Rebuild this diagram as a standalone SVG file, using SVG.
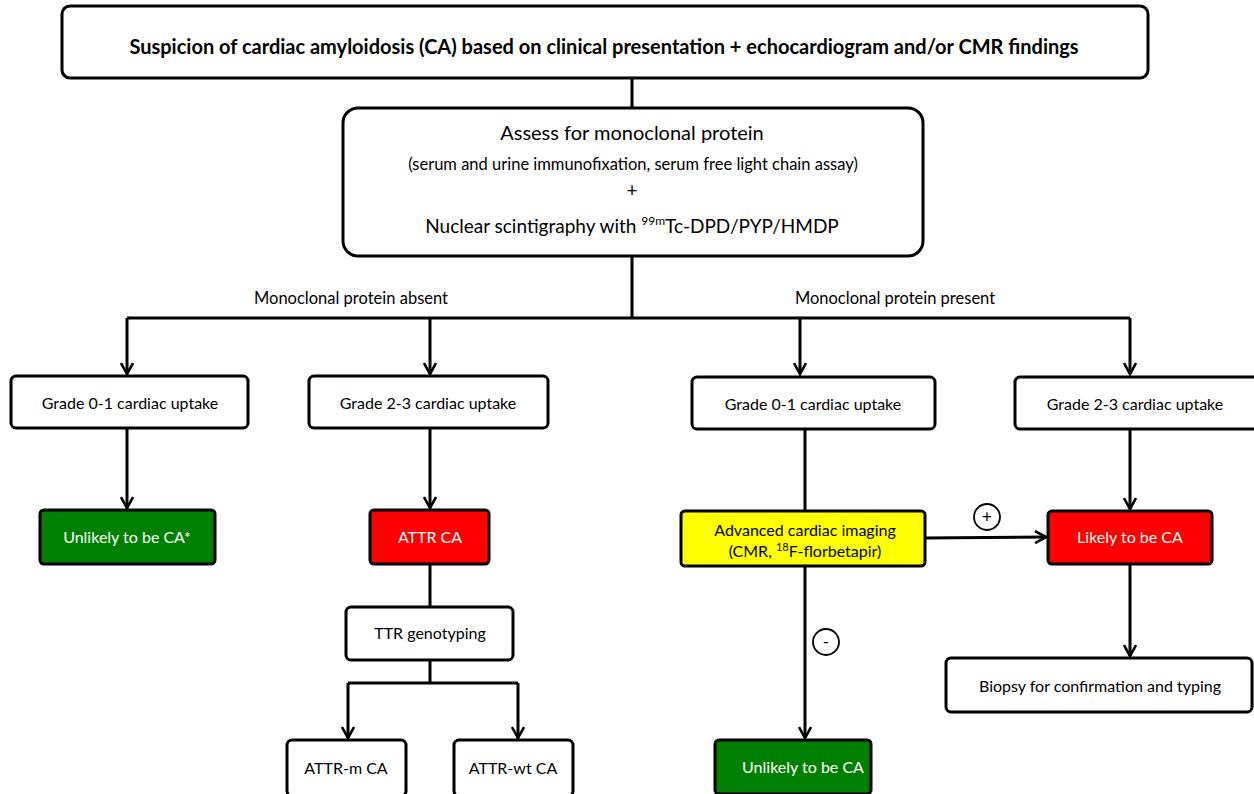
<svg xmlns="http://www.w3.org/2000/svg" width="1254" height="794" viewBox="0 0 1254 794">
<style>
.box{fill:#fff;stroke:#000;stroke-width:3}
.green{fill:#008000;stroke:#000;stroke-width:3}
.red{fill:#ff0000;stroke:#000;stroke-width:3}
.yellow{fill:#ffff00;stroke:#000;stroke-width:3}
.ln{fill:none;stroke:#000;stroke-width:3}
.t{font-family:Lato,"Open Sans","Liberation Sans",sans-serif;font-size:16px;fill:#000;text-anchor:middle}
.w{fill:#fff}
.b{font-weight:bold}
</style>
<defs>
<marker id="arr" viewBox="0 0 14 14" refX="12" refY="7" markerWidth="14" markerHeight="14" markerUnits="userSpaceOnUse" orient="auto">
<path d="M1,1 L12,7 L1,13" fill="none" stroke="#000" stroke-width="2.6"/>
</marker>
</defs>
<rect width="1254" height="794" fill="#fff"/>
<g id="connectors">
<path class="ln" d="M632,78 V108"/>
<path class="ln" d="M632,256 V318 M127,318 H1130"/>
<path class="ln" d="M127,318 V374" marker-end="url(#arr)"/>
<path class="ln" d="M430,318 V374" marker-end="url(#arr)"/>
<path class="ln" d="M800,318 V374" marker-end="url(#arr)"/>
<path class="ln" d="M1130,318 V374" marker-end="url(#arr)"/>
<path class="ln" d="M127,428 V508" marker-end="url(#arr)"/>
<path class="ln" d="M430,428 V508" marker-end="url(#arr)"/>
<path class="ln" d="M430,564 V607"/>
<path class="ln" d="M430,660 V683 M348,683 H518"/>
<path class="ln" d="M348,683 V738" marker-end="url(#arr)"/>
<path class="ln" d="M518,683 V738" marker-end="url(#arr)"/>
<path class="ln" d="M805,428 V511"/>
<path class="ln" d="M805,566 V738" marker-end="url(#arr)"/>
<path class="ln" d="M925,538 L1046,537" marker-end="url(#arr)"/>
<path class="ln" d="M1130,428 V509" marker-end="url(#arr)"/>
<path class="ln" d="M1130,564 V656" marker-end="url(#arr)"/>
<circle cx="987" cy="517" r="13" fill="#fff" stroke="#000" stroke-width="1.8"/>
<text class="t" x="987" y="523" style="font-size:17px">+</text>
<circle cx="826" cy="642" r="13" fill="#fff" stroke="#000" stroke-width="1.8"/>
<text class="t" x="826" y="648" style="font-size:17px">-</text>
<text class="t" x="351" y="304" style="font-size:16.5px">Monoclonal protein absent</text>
<text class="t" x="895" y="304" style="font-size:16.5px">Monoclonal protein present</text>
</g>
<g id="n-top">
<rect class="box" x="62" y="6" width="1086" height="72" rx="8"/>
<text class="t b" x="604" y="54" style="font-size:20px">Suspicion of cardiac amyloidosis (CA) based on clinical presentation + echocardiogram and/or CMR findings</text>
</g>
<g id="n-assess">
<rect class="box" x="343" y="108" width="580" height="148" rx="15"/>
<text class="t" x="632" y="140" style="font-size:20px">Assess for monoclonal protein</text>
<text class="t" x="633" y="170" style="font-size:16.5px">(serum and urine immunofixation, serum free light chain assay)</text>
<text class="t" x="632" y="197" style="font-size:19px">+</text>
<text class="t" x="632" y="233" style="font-size:19px">Nuclear scintigraphy with <tspan dy="-8" style="font-size:12px">99m</tspan><tspan dy="8">Tc-DPD/PYP/HMDP</tspan></text>
</g>
<g id="n-g01a">
<rect class="box" x="11" y="376" width="237" height="52" rx="5"/>
<text class="t" x="130" y="409">Grade 0-1 cardiac uptake</text>
</g>
<g id="n-g23a">
<rect class="box" x="309" y="376" width="239" height="52" rx="5"/>
<text class="t" x="428" y="409">Grade 2-3 cardiac uptake</text>
</g>
<g id="n-g01b">
<rect class="box" x="692" y="377" width="243" height="52" rx="5"/>
<text class="t" x="813" y="410">Grade 0-1 cardiac uptake</text>
</g>
<g id="n-g23b">
<rect class="box" x="1015" y="377" width="245" height="52" rx="5"/>
<text class="t" x="1135" y="410">Grade 2-3 cardiac uptake</text>
</g>
<g id="n-unlikely1">
<rect class="green" x="40" y="510" width="175" height="54" rx="4"/>
<text class="t w" x="127" y="543">Unlikely to be CA*</text>
</g>
<g id="n-attr">
<rect class="red" x="370" y="510" width="119" height="54" rx="4"/>
<text class="t w" x="430" y="543">ATTR CA</text>
</g>
<g id="n-ttr">
<rect class="box" x="346" y="607" width="167" height="53" rx="5"/>
<text class="t" x="430" y="639">TTR genotyping</text>
</g>
<g id="n-attrm">
<rect class="box" x="287" y="740" width="119" height="56" rx="5"/>
<text class="t" x="346" y="774">ATTR-m CA</text>
</g>
<g id="n-attrwt">
<rect class="box" x="454" y="740" width="119" height="56" rx="5"/>
<text class="t" x="513" y="774">ATTR-wt CA</text>
</g>
<g id="n-adv">
<rect class="yellow" x="681" y="511" width="244" height="55" rx="4"/>
<text class="t" x="805" y="536">Advanced cardiac imaging</text>
<text class="t" x="805" y="557">(CMR, <tspan dy="-6" style="font-size:11px">18</tspan><tspan dy="6">F-florbetapir)</tspan></text>
</g>
<g id="n-likely">
<rect class="red" x="1048" y="511" width="164" height="53" rx="4"/>
<text class="t w" x="1130" y="543">Likely to be CA</text>
</g>
<g id="n-biopsy">
<rect class="box" x="946" y="658" width="306" height="54" rx="5"/>
<text class="t" x="1100" y="692">Biopsy for confirmation and typing</text>
</g>
<g id="n-unlikely2">
<rect class="green" x="715" y="740" width="156" height="54" rx="4"/>
<text class="t w" x="803" y="773">Unlikely to be CA</text>
</g>
</svg>
